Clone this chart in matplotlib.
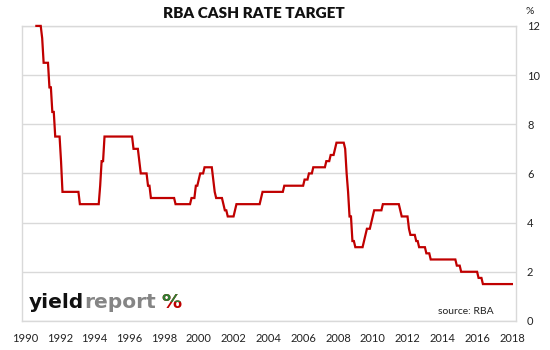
import matplotlib
matplotlib.use("Agg")
import matplotlib.pyplot as plt
from matplotlib.transforms import Bbox
import pandas as pd

# RBA target cash rate decisions (date, new rate %)
change_dates = [
    "1990-12-18", "1991-04-04", "1991-05-16", "1991-09-03", "1991-11-06",
    "1992-01-08", "1992-05-06", "1992-06-08", "1993-06-30",
    "1994-08-17", "1994-09-24", "1994-11-14", "1996-07-31", "1996-11-06",
    "1996-12-11", "1997-05-23", "1997-07-30", "1998-12-02", "1999-11-03",
    "2000-02-02", "2000-04-05", "2000-05-03", "2000-08-02", "2001-02-07",
    "2001-03-07", "2001-04-04", "2001-09-05", "2001-10-03", "2001-12-05",
    "2002-05-08", "2002-06-05", "2003-11-05", "2003-12-03", "2005-03-02",
    "2006-05-03", "2006-08-02", "2006-11-08", "2007-08-08", "2007-11-07",
    "2008-02-06", "2008-03-05", "2008-09-03", "2008-10-08", "2008-11-05",
    "2008-12-03", "2009-02-04", "2009-04-08", "2009-10-07", "2009-11-04",
    "2009-12-02", "2010-03-03", "2010-04-07", "2010-05-05", "2010-11-03",
    "2011-11-02", "2011-12-07", "2012-05-02", "2012-06-06", "2012-10-03",
    "2012-12-05", "2013-05-08", "2013-08-07", "2015-02-04", "2015-05-06",
    "2016-05-04", "2016-08-03",
]
change_rates = [
    12.00, 11.50, 10.50, 9.50, 8.50,
    7.50, 6.50, 5.25, 4.75,
    5.50, 6.50, 7.50, 7.00, 6.50,
    6.00, 5.50, 5.00, 4.75, 5.00,
    5.50, 5.75, 6.00, 6.25, 5.75,
    5.25, 5.00, 4.75, 4.50, 4.25,
    4.50, 4.75, 5.00, 5.25, 5.50,
    5.75, 6.00, 6.25, 6.50, 6.75,
    7.00, 7.25, 7.00, 6.00, 5.25,
    4.25, 3.25, 3.00, 3.25, 3.50,
    3.75, 4.00, 4.25, 4.50, 4.75,
    4.50, 4.25, 3.75, 3.50, 3.25,
    3.00, 2.75, 2.50, 2.25, 2.00,
    1.75, 1.50,
]
last_date = "2018-04-30"

year_labels = list(range(1990, 2019, 2))
rate_ticks = [0, 2, 4, 6, 8, 10, 12]

# month-end values, plotted at the start of each month
s = pd.Series(change_rates, index=pd.to_datetime(change_dates))
months = pd.date_range("1990-12-31", last_date, freq="ME")
monthly = s.reindex(s.index.union(months)).ffill().reindex(months)
x = monthly.index.year + (monthly.index.month - 1) / 12.0

red = "#C00000"
grid = "#D9D9D9"
plt.rcParams["font.family"] = ["Lato", "DejaVu Sans"]

fig = plt.figure(figsize=(5.5, 3.5), dpi=100)
ax = fig.add_axes([0.04, 0.083, 0.898, 0.843])
ax.plot(x, monthly.values, color=red, lw=1.6, solid_joinstyle="miter",
        clip_on=False, zorder=3)

ax.set_xlim(1990.09, 2018.48)
ax.set_ylim(0, 12)
ax.set_yticks(rate_ticks)
ax.yaxis.tick_right()
ax.set_xticks([y + 0.26 for y in year_labels])
ax.set_xticklabels([str(y) for y in year_labels])
ax.tick_params(axis="both", length=0, labelsize=8, colors="#222222")
ax.tick_params(axis="x", pad=9)
ax.tick_params(axis="y", pad=8)
ax.grid(axis="y", color=grid, lw=1)
ax.set_axisbelow(True)
for sp in ax.spines.values():
    sp.set_color(grid)
    sp.set_linewidth(1)

fig.text(254 / 550, 1 - 14 / 350, "RBA CASH RATE TARGET", ha="center", va="center",
         fontsize=11, fontweight="heavy", color="#111111")
fig.text(530 / 550, 1 - 12 / 350, "%", ha="center", va="center", fontsize=7.5, color="#222222")
fig.text(494 / 550, 1 - 311 / 350, "source: RBA", ha="right", va="center", fontsize=7.5, color="#222222")

# logo
logo_font = dict(family="DejaVu Sans", fontsize=14.5, fontweight="bold")
t1 = fig.text(29 / 550, 1 - 312 / 350, "yield", ha="left", va="bottom",
              color="#111111", **logo_font)
t2 = ax.annotate("report", xy=(1, 0), xycoords=t1, ha="left", va="bottom",
                 color="#858585", annotation_clip=False, **logo_font)
t3 = ax.annotate("%", xy=(1, 0), xycoords=t2, xytext=(4, 0), textcoords="offset points",
                 ha="left", va="bottom", color=red, annotation_clip=False, **logo_font)
fig.canvas.draw()
bb = t3.get_window_extent()
t4 = ax.annotate("%", xy=(1, 0), xycoords=t2, xytext=(4, 0), textcoords="offset points",
                 ha="left", va="bottom", color="#2E7D32", annotation_clip=False, **logo_font)
ymid = bb.y0 + bb.height * 0.55
t4.set_clip_box(Bbox([[bb.x0 - 2, ymid], [bb.x1 + 2, bb.y1 + 2]]))
t4.set_clip_on(True)

fig.savefig("out.png", dpi=100)
